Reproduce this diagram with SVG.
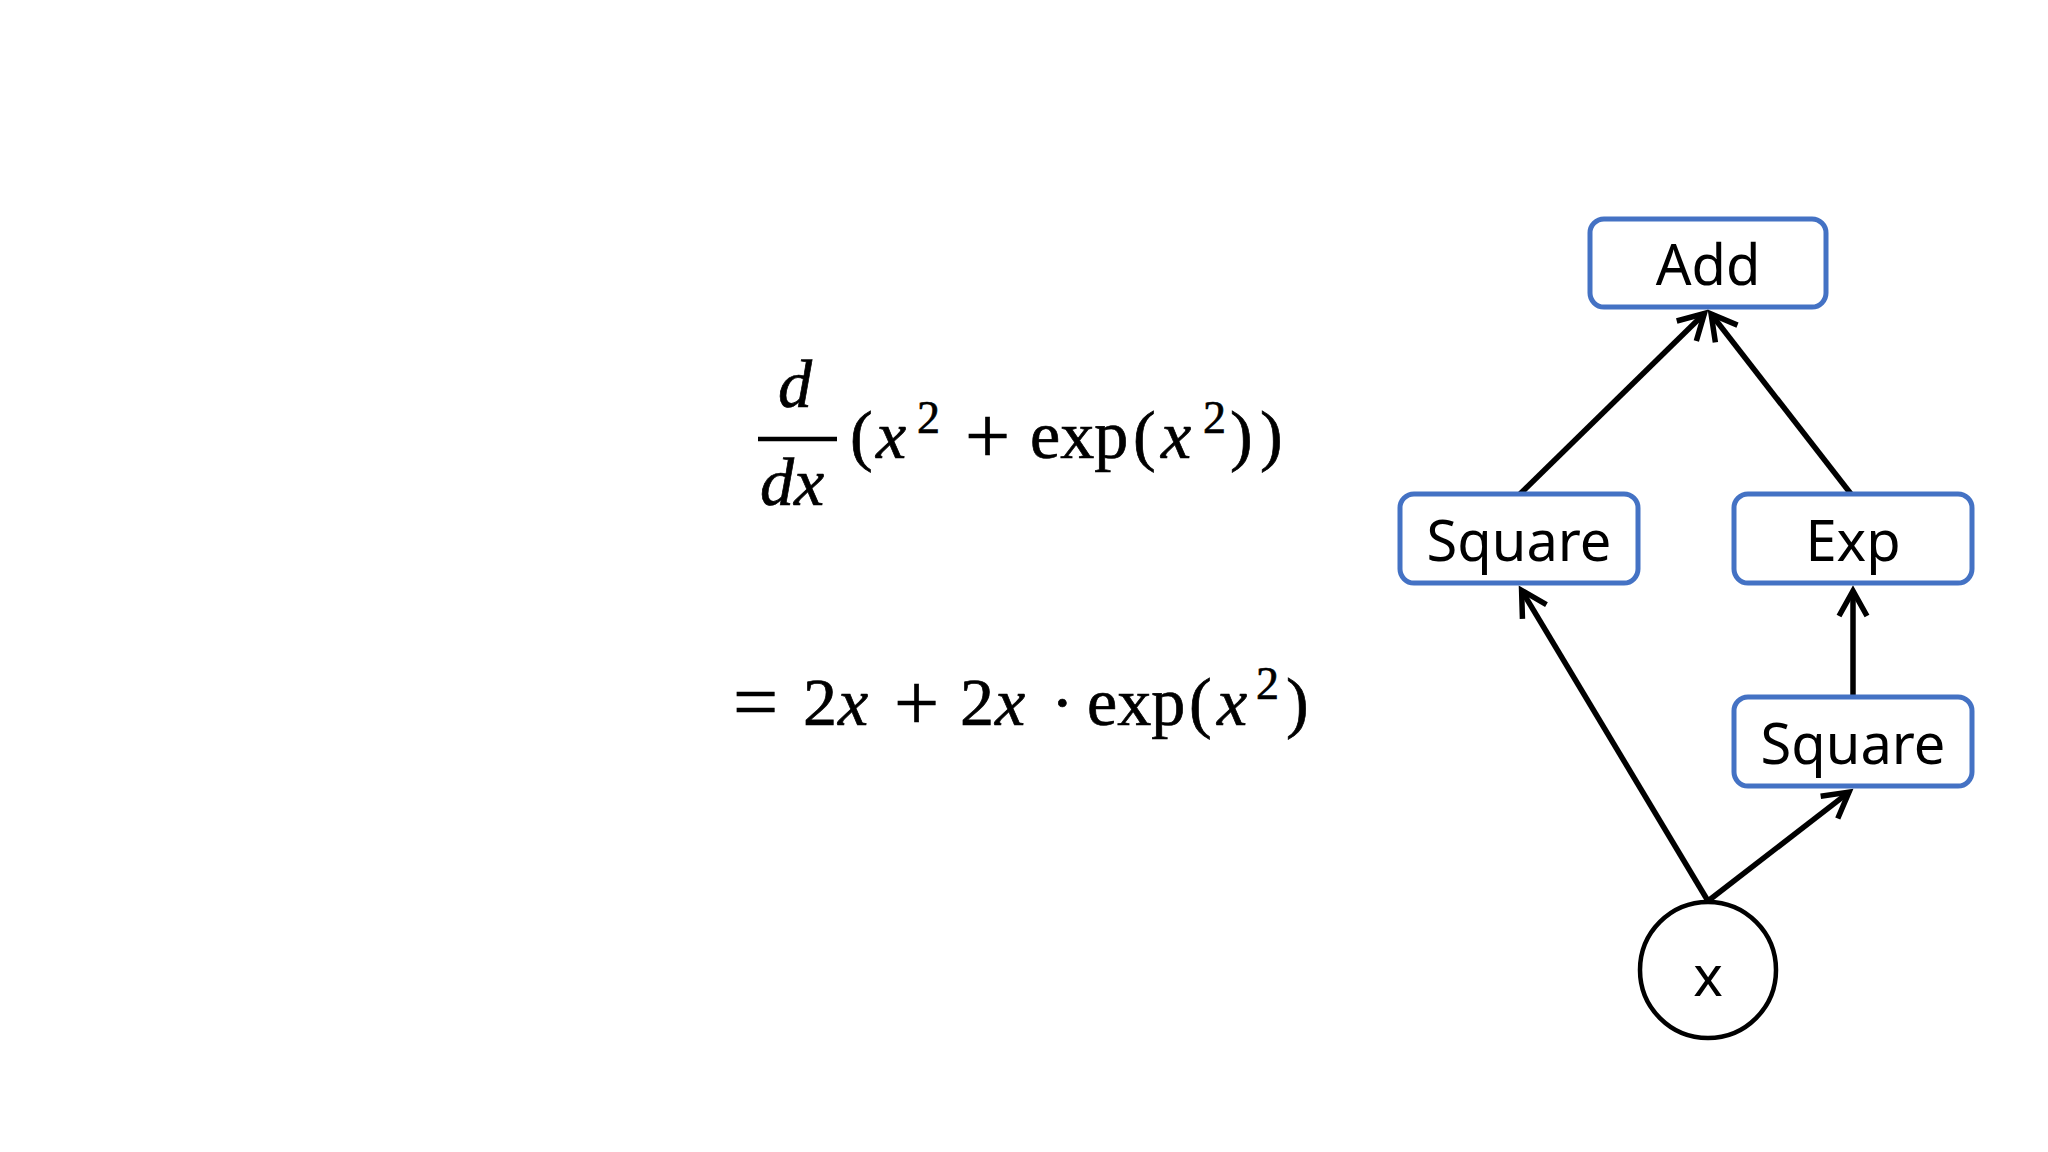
<svg xmlns="http://www.w3.org/2000/svg" width="2048" height="1152" viewBox="0 0 2048 1152">
  <defs>
    <style>
      .box { fill: #ffffff; stroke: #4472C4; stroke-width: 5; }
      .circ { fill: #ffffff; stroke: #000000; stroke-width: 4.5; }
      .lbl { font-family: "Noto Sans", "Open Sans", sans-serif; font-size: 56px; fill: #000000; text-anchor: middle; }
      .edge { stroke: #000000; stroke-width: 5.5; fill: none; marker-end: url(#arr); }
      .math { font-family: "Liberation Serif", "DejaVu Serif", serif; font-size: 68px; fill: #000000; stroke: #000000; stroke-width: 0.7; }
      .it { font-style: italic; }
      .sup { font-size: 46px; }
      .op { font-size: 80px; }
    </style>
    <marker id="arr" markerUnits="userSpaceOnUse" markerWidth="60" markerHeight="60" refX="0" refY="0" orient="auto" overflow="visible" viewBox="-30 -30 60 60">
      <path d="M -25 -14 L 0 0 L -25 14" fill="none" stroke="#000000" stroke-width="5.5" stroke-linejoin="miter"/>
    </marker>
  </defs>
  <rect width="2048" height="1152" fill="#ffffff"/>

  <g id="equation">
    <text class="math it" x="778" y="407">d</text>
    <line x1="758" y1="439" x2="837" y2="439" stroke="#000000" stroke-width="4.5"/>
    <text class="math it" x="760" y="505">dx</text>
    <text class="math"><tspan x="850" y="458">(</tspan><tspan class="it" x="876" y="458">x</tspan><tspan class="sup" x="917" y="433">2</tspan><tspan class="op" x="965" y="463">+</tspan><tspan x="1030" y="458">exp</tspan><tspan x="1133" y="458">(</tspan><tspan class="it" x="1161" y="458">x</tspan><tspan class="sup" x="1203" y="433">2</tspan><tspan x="1230" y="458">)</tspan><tspan x="1260" y="458">)</tspan></text>
    <text class="math"><tspan class="op" x="733" y="729">=</tspan><tspan x="803" y="725">2</tspan><tspan class="it" x="838" y="725">x</tspan><tspan class="op" x="894" y="730">+</tspan><tspan x="960" y="725">2</tspan><tspan class="it" x="995" y="725">x</tspan><tspan x="1051" y="725">·</tspan><tspan x="1087" y="725">exp</tspan><tspan x="1189" y="725">(</tspan><tspan class="it" x="1217" y="725">x</tspan><tspan class="sup" x="1256" y="699">2</tspan><tspan x="1286" y="725">)</tspan></text>
  </g>

  <g id="connectors">
    <line class="edge" x1="1708" y1="901" x2="1521.6" y2="590.3"/>
    <line class="edge" x1="1708" y1="901" x2="1849" y2="792.1"/>
    <line class="edge" x1="1853" y1="697" x2="1853" y2="591"/>
    <line class="edge" x1="1520" y1="494" x2="1704.4" y2="313.5"/>
    <line class="edge" x1="1851" y1="494" x2="1711.1" y2="314"/>
  </g>

  <g id="node-add">
    <rect class="box" x="1590" y="219" width="236" height="88" rx="14"/>
    <text class="lbl" x="1708" y="285">Add</text>
  </g>
  <g id="node-square-left">
    <rect class="box" x="1400" y="494" width="238" height="89" rx="14"/>
    <text class="lbl" x="1519" y="561">Square</text>
  </g>
  <g id="node-exp">
    <rect class="box" x="1734" y="494" width="238" height="89" rx="14"/>
    <text class="lbl" x="1853" y="561">Exp</text>
  </g>
  <g id="node-square-right">
    <rect class="box" x="1734" y="697" width="238" height="89" rx="14"/>
    <text class="lbl" x="1853" y="764">Square</text>
  </g>
  <g id="node-x">
    <circle class="circ" cx="1708" cy="970" r="68"/>
    <text class="lbl" x="1708" y="996">x</text>
  </g>
</svg>
